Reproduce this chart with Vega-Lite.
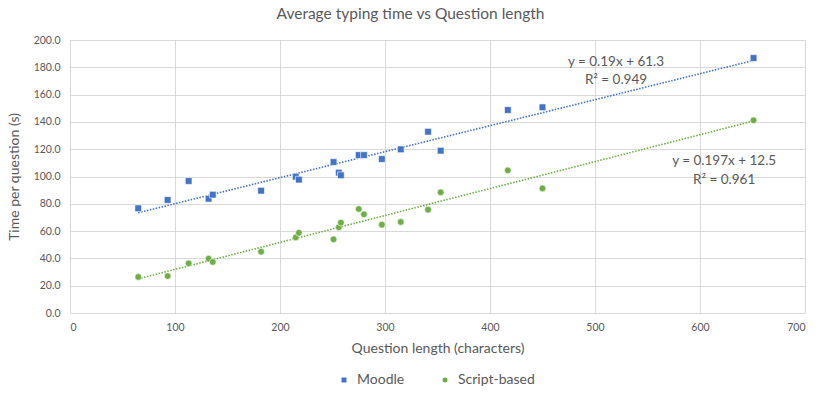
{
  "$schema": "https://vega.github.io/schema/vega-lite/v6.json",
  "width": 735,
  "height": 273,
  "autosize": "none",
  "padding": {"left": 70, "top": 40, "right": 17, "bottom": 85},
  "background": "white",
  "title": {"text": "Average typing time vs Question length", "font": "Lato", "fontSize": 15.5, "fontWeight": "normal", "color": "#595959", "offset": 13, "dx": -27},
  "config": {
    "view": {"stroke": null},
    "font": "Lato",
    "axis": {"labelFont": "Lato", "titleFont": "Lato", "labelColor": "#595959", "titleColor": "#595959", "titleFontWeight": "normal", "gridColor": "#D9D9D9", "domain": false, "ticks": false, "labelFontSize": 10.5, "titleFontSize": 14, "labelOverlap": false}
  },
  "datasets": {
    "points": [
      {"series": "Moodle", "length": 65, "time": 76.7},
      {"series": "Moodle", "length": 93, "time": 82.8},
      {"series": "Moodle", "length": 113, "time": 96.7},
      {"series": "Moodle", "length": 132, "time": 83.7},
      {"series": "Moodle", "length": 136, "time": 86.7},
      {"series": "Moodle", "length": 182, "time": 89.6},
      {"series": "Moodle", "length": 215, "time": 99.9},
      {"series": "Moodle", "length": 218, "time": 97.7},
      {"series": "Moodle", "length": 251, "time": 110.6},
      {"series": "Moodle", "length": 256, "time": 102.8},
      {"series": "Moodle", "length": 258, "time": 100.9},
      {"series": "Moodle", "length": 275, "time": 115.7},
      {"series": "Moodle", "length": 280, "time": 115.7},
      {"series": "Moodle", "length": 297, "time": 112.8},
      {"series": "Moodle", "length": 315, "time": 119.9},
      {"series": "Moodle", "length": 341, "time": 132.8},
      {"series": "Moodle", "length": 353, "time": 118.9},
      {"series": "Moodle", "length": 417, "time": 148.7},
      {"series": "Moodle", "length": 450, "time": 150.7},
      {"series": "Moodle", "length": 651, "time": 186.8},
      {"series": "Script-based", "length": 65, "time": 26.4},
      {"series": "Script-based", "length": 93, "time": 27.1},
      {"series": "Script-based", "length": 113, "time": 36.4},
      {"series": "Script-based", "length": 132, "time": 39.8},
      {"series": "Script-based", "length": 136, "time": 37.4},
      {"series": "Script-based", "length": 182, "time": 44.9},
      {"series": "Script-based", "length": 215, "time": 55.4},
      {"series": "Script-based", "length": 218, "time": 58.8},
      {"series": "Script-based", "length": 251, "time": 54.0},
      {"series": "Script-based", "length": 256, "time": 62.8},
      {"series": "Script-based", "length": 258, "time": 66.2},
      {"series": "Script-based", "length": 275, "time": 76.2},
      {"series": "Script-based", "length": 280, "time": 72.3},
      {"series": "Script-based", "length": 297, "time": 64.7},
      {"series": "Script-based", "length": 315, "time": 66.7},
      {"series": "Script-based", "length": 341, "time": 75.7},
      {"series": "Script-based", "length": 353, "time": 88.4},
      {"series": "Script-based", "length": 417, "time": 104.5},
      {"series": "Script-based", "length": 450, "time": 91.3},
      {"series": "Script-based", "length": 651, "time": 141.2}
    ],
    "labels": [
      {"length": 520, "time": 184.1, "text": "y = 0.19x + 61.3"},
      {"length": 520, "time": 170.7, "text": "R² = 0.949"},
      {"length": 623, "time": 111.4, "text": "y = 0.197x + 12.5"},
      {"length": 623, "time": 97.4, "text": "R² = 0.961"}
    ]
  },
  "encoding": {
    "x": {"field": "length", "type": "quantitative", "title": "Question length (characters)",
      "scale": {"domain": [0, 700], "nice": false},
      "axis": {"values": [0, 100, 200, 300, 400, 500, 600, 700], "labelPadding": 9, "titlePadding": 9}},
    "y": {"field": "time", "type": "quantitative", "title": "Time per question (s)",
      "scale": {"domain": [0, 200], "nice": false},
      "axis": {"values": [0, 20, 40, 60, 80, 100, 120, 140, 160, 180, 200], "format": ".1f", "labelPadding": 10, "titlePadding": 12}}
  },
  "layer": [
    {
      "data": {"name": "points"},
      "transform": [{"regression": "time", "on": "length", "groupby": ["series"]}],
      "mark": {"type": "line", "strokeDash": [1.5, 1.5], "strokeWidth": 1.6},
      "encoding": {
        "color": {"field": "series", "type": "nominal", "title": null,
          "scale": {"domain": ["Moodle", "Script-based"], "range": ["#4472C4", "#70AD47"]},
          "legend": {"orient": "none", "legendX": 267, "legendY": 333, "direction": "horizontal", "labelFontSize": 14, "labelColor": "#595959", "symbolSize": 25, "columnPadding": 33, "labelOffset": 6, "symbolStrokeWidth": 0}}
      }
    },
    {
      "data": {"name": "points"},
      "mark": {"type": "point", "filled": true, "opacity": 1, "stroke": "white", "strokeWidth": 0.6},
      "encoding": {
        "color": {"field": "series", "type": "nominal", "title": null,
          "scale": {"domain": ["Moodle", "Script-based"], "range": ["#4472C4", "#70AD47"]},
          "legend": {"orient": "none", "legendX": 267, "legendY": 333, "direction": "horizontal", "labelFontSize": 14, "labelColor": "#595959", "symbolSize": 25, "columnPadding": 33, "labelOffset": 6, "symbolStrokeWidth": 0}},
        "shape": {"field": "series", "type": "nominal", "title": null,
          "scale": {"domain": ["Moodle", "Script-based"], "range": ["square", "circle"]}},
        "size": {"value": 45}
      }
    },
    {
      "data": {"name": "labels"},
      "mark": {"type": "text", "fontSize": 13.5, "color": "#595959", "align": "center", "baseline": "middle"},
      "encoding": {
        "text": {"field": "text"}
      }
    }
  ]
}
